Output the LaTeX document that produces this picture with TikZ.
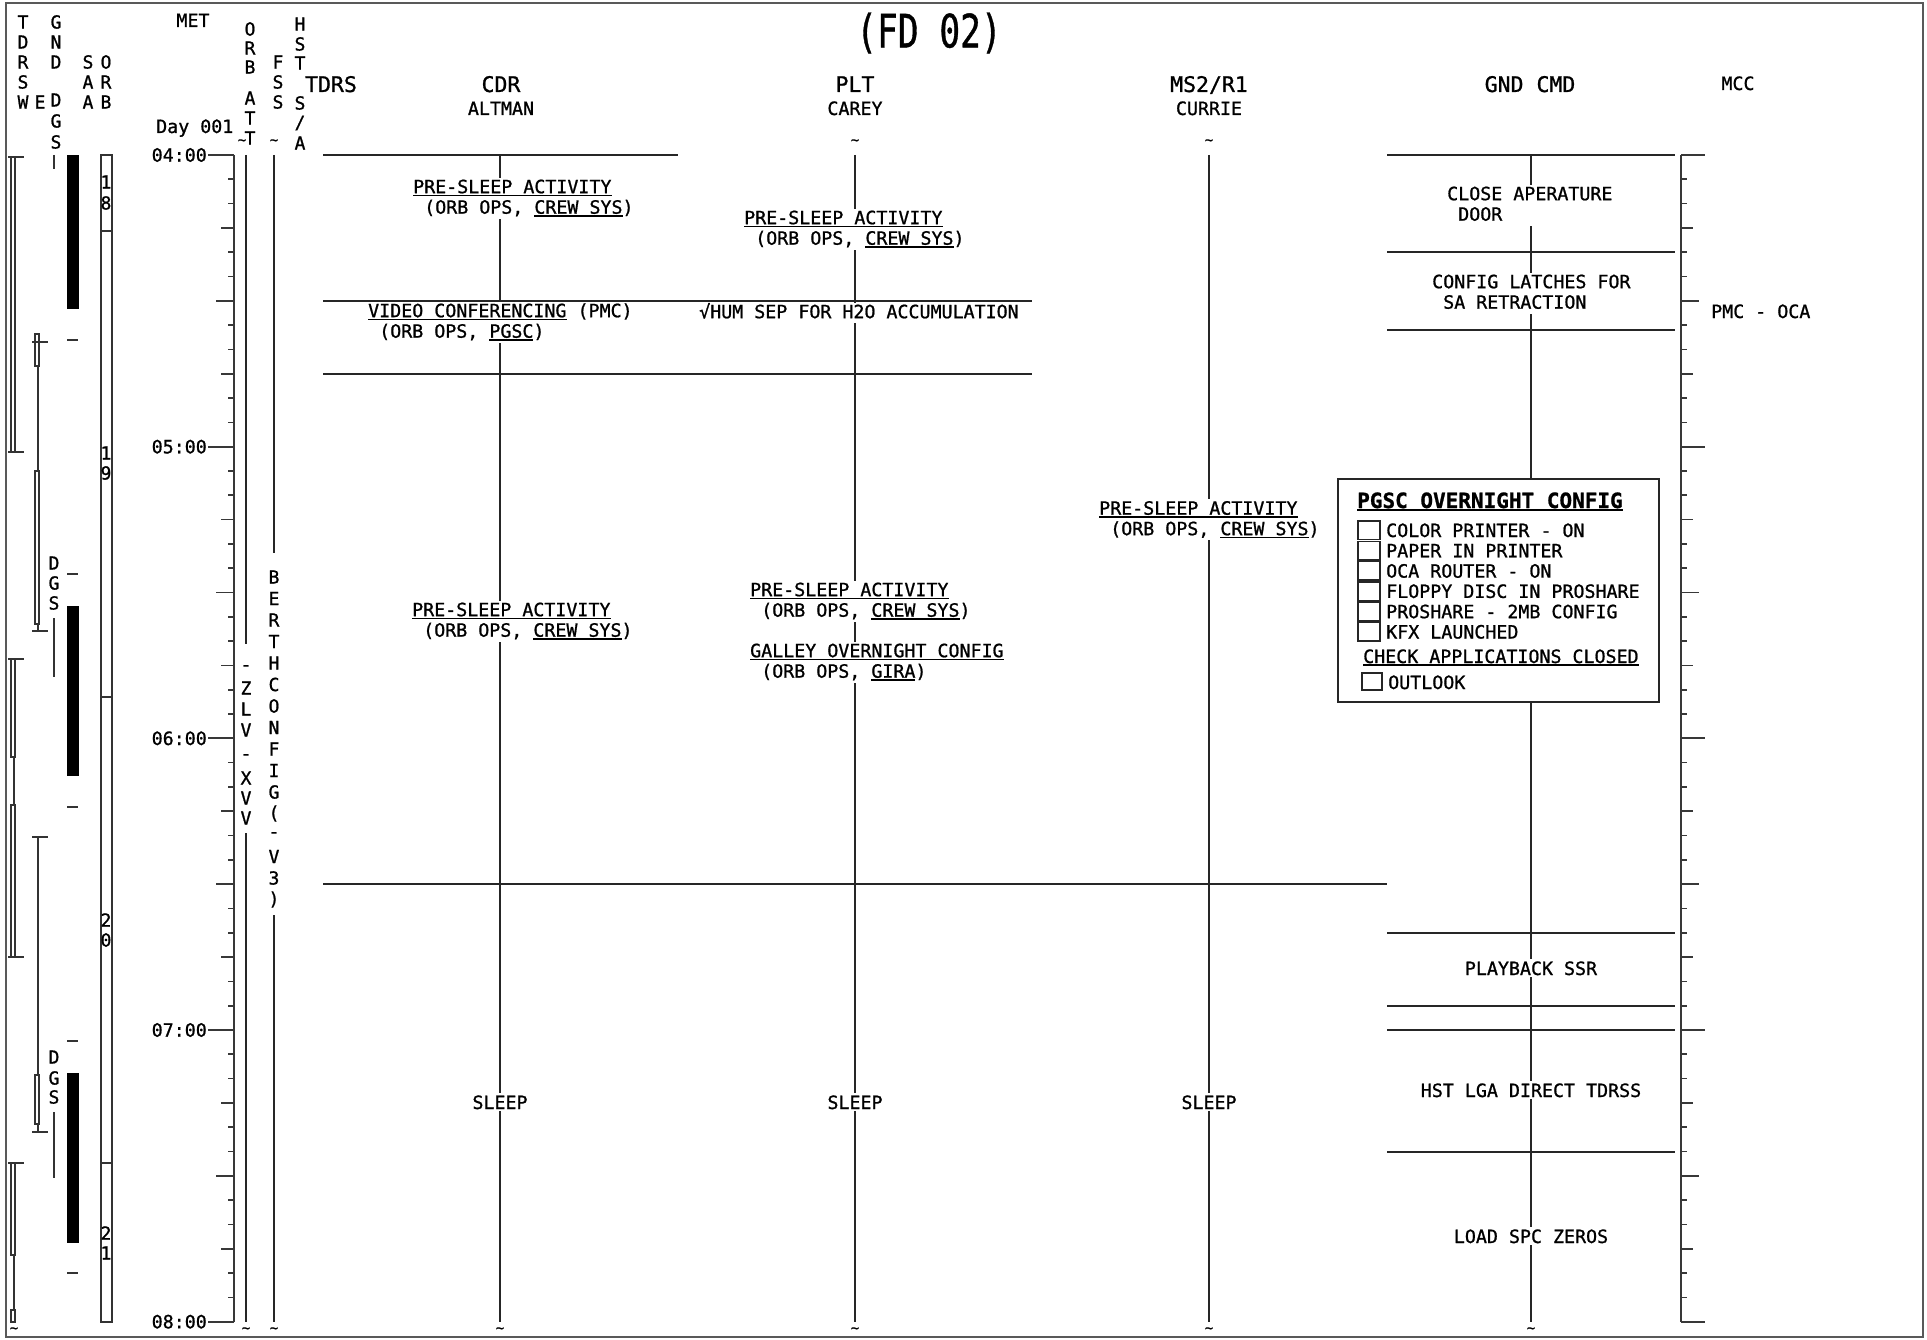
\documentclass[tikz,border=0pt]{standalone}
\usepackage{fontspec}
\setmainfont{DejaVu Sans Mono}[FakeBold=1.0]
\newsavebox\ulbox
\newcommand\ul[1]{\sbox\ulbox{#1}\rlap{\rule[-3pt]{\wd\ulbox}{1.6pt}}\usebox\ulbox}
\newcommand\fsz[1]{\fontsize{#1}{20.5}\selectfont}
\newcommand\st{\rule[-5pt]{0pt}{20.5pt}}
\newcommand\ph{\phantom{X}}
\begin{document}
\begin{tikzpicture}[x=1pt,y=-1pt,
  ln/.style={line width=1.8pt, black!85},
  ax/.style={line width=1.7pt, black!78},
  fine/.style={line width=1.3pt, black!80},
  tx/.style={font=\fsz{18.3}, inner sep=0pt, text=black},
  blk/.style={tx, align=left, fill=white, anchor=north west},
  hd/.style={font=\fsz{21.5}, inner sep=0pt, anchor=base},
  sl/.style={tx, anchor=base, fill=white, inner sep=2pt},
  vl/.style={inner sep=0pt, font=\fsz{18}},
  tl/.style={inner sep=0pt, font=\fsz{14}},
]
\useasboundingbox (0,0) rectangle (1927,1340);
\draw[line width=2pt, black!65] (6,3) rectangle (1923,1337);

% title and headers
\node[inner sep=0pt] (title) at (929,33) {\scalebox{0.75}[1]{\fontsize{46}{46}\selectfont (FD 02)}};
\node[hd] (hTDRS) at (331,92) {TDRS};
\node[hd] (hCDR) at (501,92) {CDR};
\node[tx, anchor=base] (hALT) at (501,115) {ALTMAN};
\node[hd] (hPLT) at (855,92) {PLT};
\node[tx, anchor=base] (hCAR) at (855,115) {CAREY};
\node[hd] (hMS2) at (1209,92) {MS2/R1};
\node[tx, anchor=base] (hCUR) at (1209,115) {CURRIE};
\node[hd] (hGND) at (1530,92) {GND CMD};
\node[tx, anchor=base] (hMCC) at (1738,90) {MCC};
\node[tx, anchor=base] (hMET) at (193,27) {MET};
\node[tx, anchor=base west] (hDay) at (156,133) {Day 001};

% stacked headers
\foreach \c/\yy [count=\i] in {T/22,D/42,R/62,S/82,W/102} \node[vl] (tw\i) at (23,\yy) {\c};
\node[vl] (te) at (40,102) {E};
\foreach \c/\yy [count=\i] in {G/22,N/42,D/62,D/100,G/121,S/142} \node[vl] (gn\i) at (56,\yy) {\c};
\foreach \c/\yy [count=\i] in {S/62,A/82,A/102} \node[vl] (sa\i) at (88,\yy) {\c};
\foreach \c/\yy [count=\i] in {O/62,R/82,B/102} \node[vl] (ob\i) at (106,\yy) {\c};
\foreach \c/\yy [count=\i] in {O/29,R/48,B/67,A/98,T/118,T/138} \node[vl] (oa\i) at (250,\yy) {\c};
\foreach \c/\yy [count=\i] in {F/62,S/82,S/102} \node[vl] (fs\i) at (278,\yy) {\c};
\foreach \c/\yy [count=\i] in {H/24,S/44,T/63,S/103} \node[vl] (hs\i) at (300,\yy) {\c};
\node[vl] (hs5) at (300,123) {/};
\node[vl] (hs6) at (300,143) {A};

% tildes
\foreach \xx/\yy [count=\i] in {242/142,274/142,855/142,1209/142,14/1330,246/1330,274/1330,500/1330,855/1330,1209/1330,1531/1330}
  \node[tl] (tilde\i) at (\xx,\yy) {\textasciitilde};

% ---------- left strip ----------
% TDRS W
\draw[fine] (8,157) -- (24,157);
\draw[fine] (11,157) rectangle (15,452);
\draw[fine] (8,452) -- (24,452);
\draw[fine] (8,659) -- (24,659);
\draw[fine] (11,659) rectangle (15,757);
\draw[fine] (14,757) -- (14,805);
\draw[fine] (11,805) rectangle (15,957);
\draw[fine] (8,957) -- (24,957);
\draw[fine] (8,1163) -- (24,1163);
\draw[fine] (11,1163) rectangle (15,1255);
\draw[fine] (14,1255) -- (14,1310);
\draw[fine] (11,1310) rectangle (15,1322);
% TDRS E
\draw[fine] (35,334) rectangle (39,366);
\draw[fine] (32,342) -- (48,342);
\draw[fine] (38,366) -- (38,471);
\draw[fine] (35,471) rectangle (39,624);
\draw[fine] (38,624) -- (38,631);
\draw[fine] (32,631) -- (48,631);
\draw[fine] (32,837) -- (48,837);
\draw[fine] (38,837) -- (38,1075);
\draw[fine] (35,1075) rectangle (39,1124);
\draw[fine] (38,1124) -- (38,1132);
\draw[fine] (32,1132) -- (48,1132);
% DGS
\draw[fine] (54,155) -- (54,169);
\foreach \c/\yy [count=\i] in {D/563,G/583,S/603} \node[vl] (dga\i) at (54,\yy) {\c};
\draw[fine] (54,618) -- (54,677);
\foreach \c/\yy [count=\i] in {D/1057,G/1078,S/1097} \node[vl] (dgb\i) at (54,\yy) {\c};
\draw[fine] (54,1112) -- (54,1178);
% SAA black bars
\fill[black] (67,155) rectangle (79,309);
\fill[black] (67,606) rectangle (79,776);
\fill[black] (67,1073) rectangle (79,1243);
\foreach \yy in {340,574,807,1041,1273} \draw[fine] (67,\yy) -- (78,\yy);
% ORB
\draw[fine] (101,155) rectangle (112,1322);
\foreach \yy in {231,697,1163} \draw[fine] (101,\yy) -- (112,\yy);
\foreach \c/\yy [count=\i] in {1/182,8/203,1/453,9/473,2/920,0/940,2/1233,1/1253} \node[vl] (orbn\i) at (106,\yy) {\c};

% ---------- time axis ----------
\draw[ax] (234,155) -- (234,1322);
\draw[ax] (1681,155) -- (1681,1322);
\foreach \k in {0,...,48}{
  \pgfmathsetmacro\yy{155+\k*24.30556}
  \pgfmathtruncatemacro\ma{mod(\k,12)}
  \pgfmathtruncatemacro\mb{mod(\k,6)}
  \pgfmathtruncatemacro\mc{mod(\k,3)}
  \ifnum\ma=0 \def\la{26}\def\lb{24}\else\ifnum\mb=0 \def\la{18}\def\lb{18}\else\ifnum\mc=0 \def\la{13}\def\lb{12}\else\def\la{6}\def\lb{6}\fi\fi\fi
  \draw[ax] (234,\yy) -- (234-\la,\yy);
  \draw[ax] (1681,\yy) -- (1681+\lb,\yy);
}
\foreach \h [count=\i from 0] in {04,05,06,07,08}
  \node[tx, anchor=east] (hr\h) at (207,155+\i*291.667) {\h:00};

% ORB ATT / FSS columns
\draw[ln] (246,155) -- (246,644);
\draw[ln] (246,833) -- (246,1322);
\foreach \c/\yy [count=\i] in {-/668,Z/688,L/709,V/730,-/757,X/778,V/798,V/818} \node[vl] (zl\i) at (246,\yy) {\c};
\draw[ln] (274,155) -- (274,553);
\draw[ln] (274,915) -- (274,1322);
\foreach \c [count=\i from 0] in {B,E,R,T,H,C,O,N,F,I,G,{(},-,V,3,{)}}
  \node[vl] (bc\i) at (274,577+\i*21.5) {\c};

% ---------- crew columns ----------
\draw[ln] (500,155) -- (500,1322);
\draw[ln] (855,155) -- (855,1322);
\draw[ln] (1209,155) -- (1209,1322);
\draw[ln] (1531,155) -- (1531,1322);

% CDR
\node[blk] (cdrA) at (413,177.5) {\st\ul{PRE-SLEEP ACTIVITY}\\\st\ph(ORB OPS, \ul{CREW SYS})};
\node[blk] (cdrB) at (368,301.5) {\st\ul{VIDEO CONFERENCING} (PMC)\\\st\ph(ORB OPS, \ul{PGSC})};
\node[blk] (cdrC) at (412,600.5) {\st\ul{PRE-SLEEP ACTIVITY}\\\st\ph(ORB OPS, \ul{CREW SYS})};
\node[sl] (cdrS) at (500,1109) {SLEEP};
% PLT
\node[blk] (pltA) at (744,208.5) {\st\ul{PRE-SLEEP ACTIVITY}\\\st\ph(ORB OPS, \ul{CREW SYS})};
\node[blk] (pltB) at (699,302.5) {\st√HUM SEP FOR H2O ACCUMULATION};
\node[blk] (pltC) at (750,580.5) {\st\ul{PRE-SLEEP ACTIVITY}\\\st\ph(ORB OPS, \ul{CREW SYS})};
\node[blk] (pltD) at (750,641.5) {\st\ul{GALLEY OVERNIGHT CONFIG}\\\st\ph(ORB OPS, \ul{GIRA})};
\node[sl] (pltS) at (855,1109) {SLEEP};
% MS2
\node[blk] (msA) at (1099,499) {\st\ul{PRE-SLEEP ACTIVITY}\\\st\ph(ORB OPS, \ul{CREW SYS})};
\node[sl] (msS) at (1209,1109) {SLEEP};
% GND CMD
\node[blk] (gA) at (1447,184.5) {\st CLOSE APERATURE\\\st\ph DOOR};
\node[blk] (gB) at (1432,272.5) {\st CONFIG LATCHES FOR\\\st\ph SA RETRACTION};
\node[sl] (gC) at (1531,975) {PLAYBACK SSR};
\node[sl] (gD) at (1531,1097) {HST LGA DIRECT TDRSS};
\node[sl] (gE) at (1531,1243) {LOAD SPC ZEROS};
% MCC
\node[tx, anchor=base west] (mccA) at (1711,318) {PMC - OCA};

% horizontal block lines
\draw[ln] (323,155) -- (678,155);
\draw[ln] (323,301) -- (1032,301);
\draw[ln] (323,374) -- (1032,374);
\draw[ln] (323,884) -- (1387,884);
\foreach \yy in {155,252,330,933,1006,1030,1152}
  \draw[ln] (1387,\yy) -- (1675,\yy);

% PGSC box
\node[draw=black!85, line width=2pt, fill=white, minimum width=321pt, minimum height=223pt, anchor=north west, inner sep=0pt] (pgsc) at (1337,478) {};
\node[inner sep=0pt, anchor=base west, font=\fsz{21}\bfseries] (pgscT) at (1357,508) {\ul{PGSC OVERNIGHT CONFIG}};
\foreach \t [count=\i from 0] in {COLOR PRINTER - ON,PAPER IN PRINTER,OCA ROUTER - ON,FLOPPY DISC IN PROSHARE,PROSHARE - 2MB CONFIG,KFX LAUNCHED}{
  \draw[line width=1.6pt, black!85] (1358,521+\i*20.3) rectangle (1380,539.5+\i*20.3);
  \node[tx, anchor=base west] (chk\i) at (1386,537+\i*20.3) {\t};
}
\node[tx, anchor=base west] (pgscC) at (1363,663) {\ul{CHECK APPLICATIONS CLOSED}};
\draw[line width=1.6pt, black!85] (1362,673) rectangle (1382,690);
\node[tx, anchor=base west] (pgscO) at (1388,689) {OUTLOOK};
\end{tikzpicture}
\end{document}
